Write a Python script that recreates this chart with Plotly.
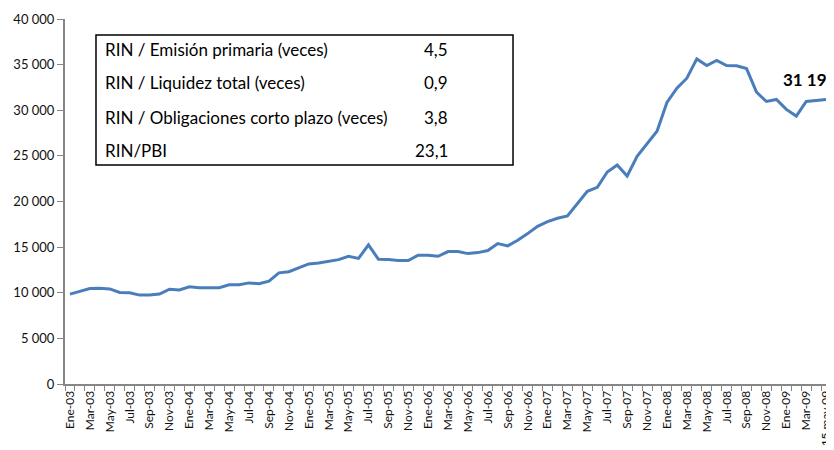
import plotly.graph_objects as go

months = ["Ene", "Feb", "Mar", "Abr", "May", "Jun", "Jul", "Ago", "Sep", "Oct", "Nov", "Dic"]
categories = [f"{m}-{y:02d}" for y in range(3, 10) for m in months][:76] + ["15 may 09"]

rin = [
    9850, 10200, 10470, 10500, 10420, 10030, 10000, 9740, 9750, 9860,
    10390, 10300, 10650, 10550, 10550, 10550, 10870, 10870, 11080, 10980,
    11270, 12180, 12300, 12690, 13160, 13270, 13490, 13630, 14000, 13760,
    15240, 13680, 13650, 13540, 13540, 14120, 14120, 14000, 14510, 14510,
    14290, 14400, 14620, 15390, 15140, 15750, 16480, 17280, 17800, 18160,
    18410, 19760, 21110, 21550, 23230, 23990, 22790, 24950, 26330, 27710,
    30850, 32420, 33510, 35630, 34900, 35450, 34900, 34870, 34570, 31980,
    30960, 31180, 30090, 29360, 30960, 31070, 31191,
]

ratio_labels = [
    "RIN / Emisión primaria (veces)",
    "RIN / Liquidez total (veces)",
    "RIN / Obligaciones corto plazo (veces)",
    "RIN/PBI",
]
ratio_values = ["4,5", "0,9", "3,8", "23,1"]

y_ticks = [0, 5000, 10000, 15000, 20000, 25000, 30000, 35000, 40000]

FONT = "Lato, 'Open Sans', sans-serif"

idx = list(range(len(categories)))
fig = go.Figure()
fig.add_trace(go.Scatter(
    x=idx, y=rin, mode="lines",
    line=dict(color="#4A7EBB", width=3),
    text=categories, hovertemplate="%{text}: %{y}<extra></extra>",
))

fig.update_layout(
    width=826, height=442,
    margin=dict(l=57, r=0, t=11, b=66),
    paper_bgcolor="white", plot_bgcolor="white",
    showlegend=False,
    separators=", ",
    font=dict(family=FONT, color="#111111"),
    xaxis=dict(
        range=[-0.5, 76.79],
        tickmode="array",
        tickvals=idx[::2],
        ticktext=categories[::2],
        tickangle=-90,
        ticks="", showgrid=False, zeroline=False,
        showline=True, linecolor="#868686", linewidth=2,
        tickfont=dict(size=12, color="#111111"),
        automargin=False,
        minor=dict(tickmode="linear", tick0=-0.5, dtick=1, ticks="outside",
                   ticklen=5, tickcolor="#868686", tickwidth=1, showgrid=False),
    ),
    yaxis=dict(
        range=[0, 40000],
        tickvals=y_ticks,
        tickformat=",d",
        ticks="outside", ticklen=6, tickcolor="#868686", tickwidth=1,
        showgrid=False, zeroline=False,
        showline=True, linecolor="#868686", linewidth=2,
        tickfont=dict(size=13, color="#111111"),
        automargin=False,
    ),
)

# Ratio box
fig.add_shape(type="rect", xref="paper", yref="paper",
              x0=0.0403, x1=0.5826, y0=0.600, y1=0.956,
              line=dict(color="black", width=1.5), fillcolor="white")
row_y = [0.9178, 0.8247, 0.7315, 0.6384]
for lab, val, yy in zip(ratio_labels, ratio_values, row_y):
    fig.add_annotation(xref="paper", yref="paper", x=0.0494, y=yy,
                       text=lab, showarrow=False, xanchor="left", yanchor="middle",
                       font=dict(size=17, color="black", family=FONT))
    fig.add_annotation(xref="paper", yref="paper", x=0.5006, y=yy,
                       text=val, showarrow=False, xanchor="right", yanchor="middle",
                       font=dict(size=17, color="black", family=FONT))

last_val = f"{rin[-1]:,}".replace(",", " ")
fig.add_annotation(xref="paper", yref="paper", x=0.931, y=0.833,
                   text=f"<b>{last_val}</b>", showarrow=False,
                   xanchor="left", yanchor="middle",
                   font=dict(size=17, color="black", family=FONT))

fig.write_html("out.html")
